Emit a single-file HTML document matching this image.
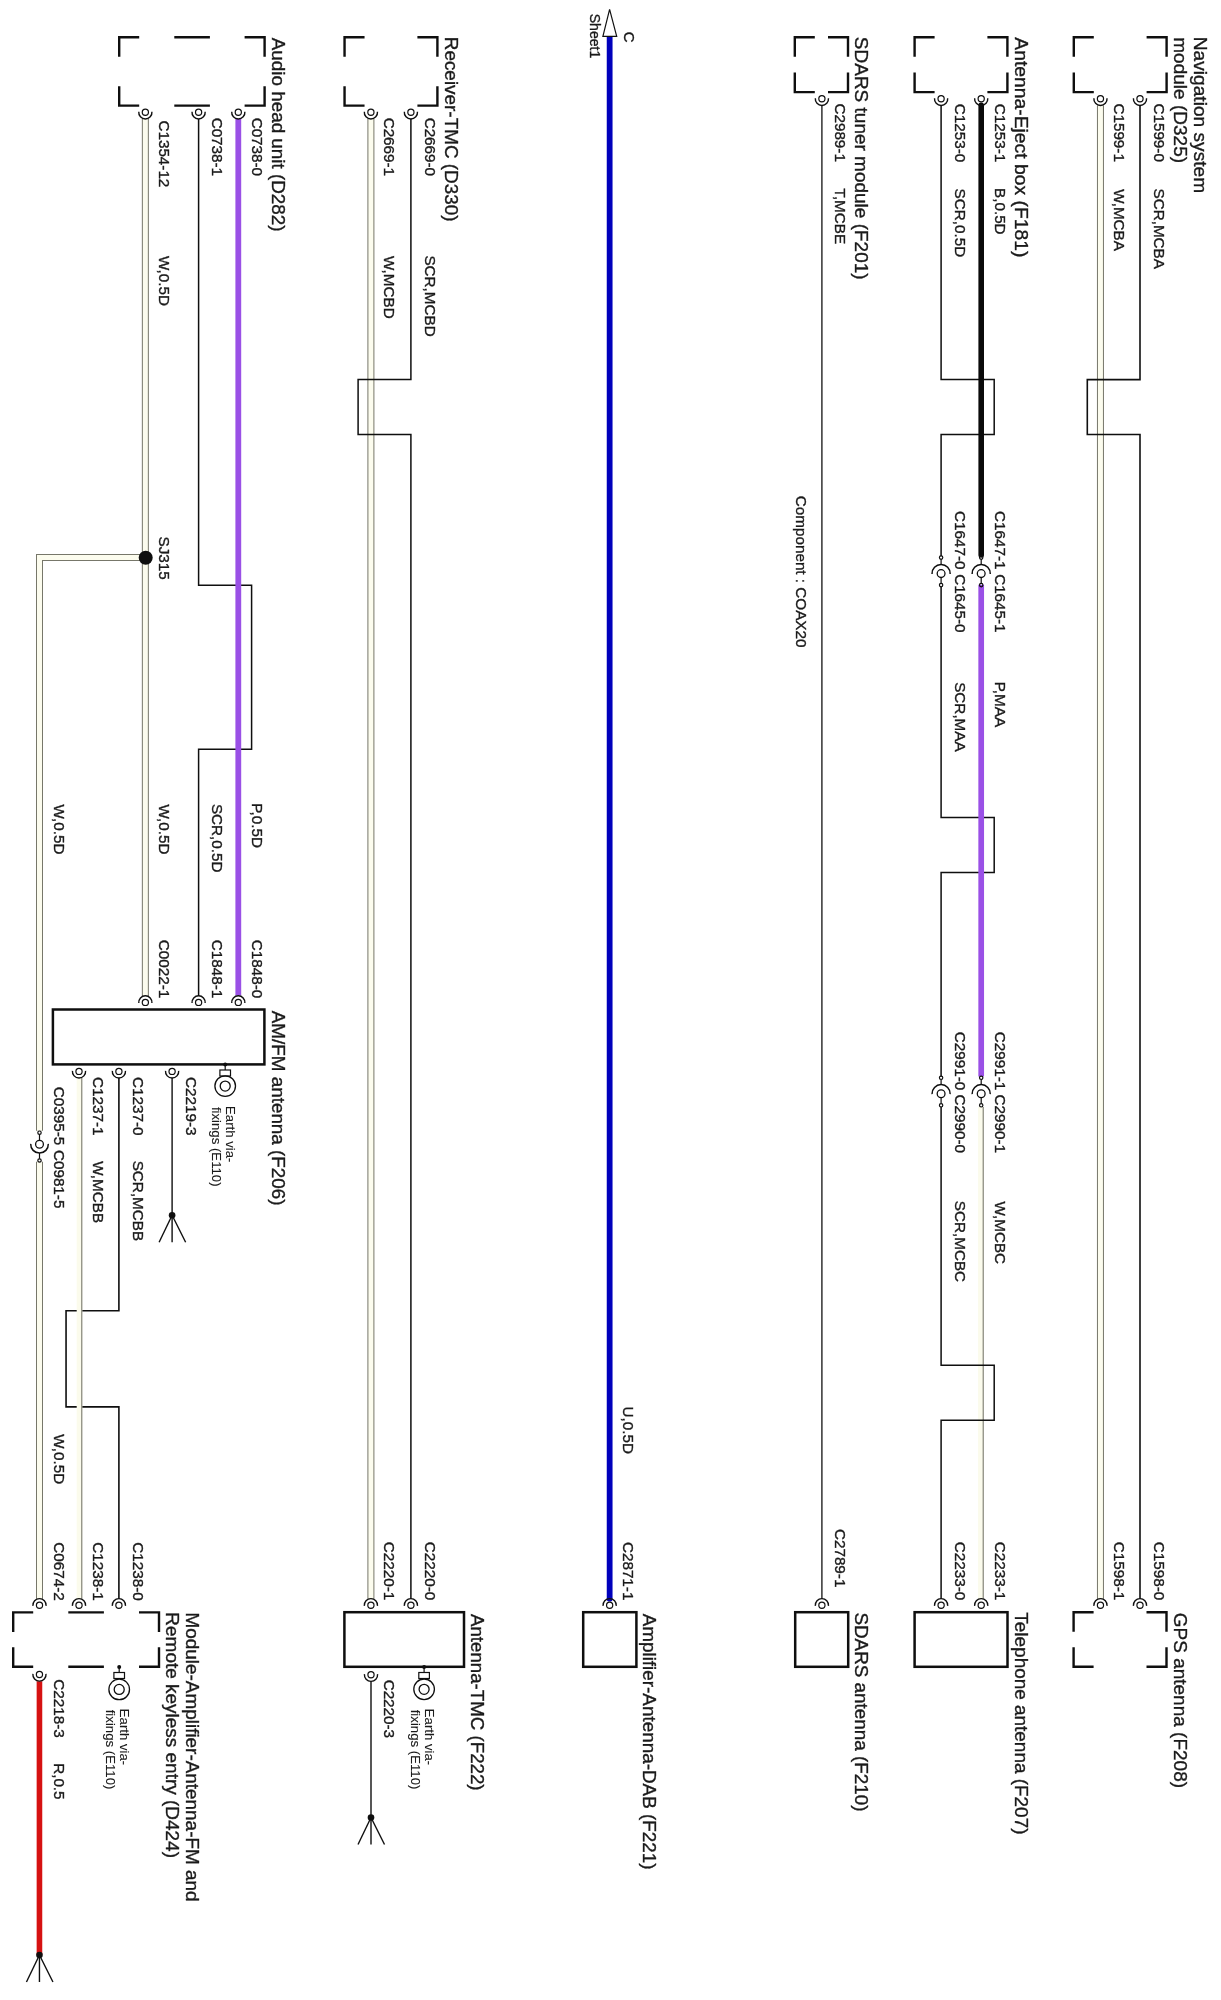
<!DOCTYPE html>
<html><head><meta charset="utf-8"><title>Wiring diagram</title>
<style>
html,body{margin:0;padding:0;background:#fff;}
body{width:1221px;height:2000px;overflow:hidden;}
svg{display:block;font-family:'Liberation Sans', Arial, sans-serif;}
text{-webkit-font-smoothing:antialiased;}
</style></head><body>
<svg width="1221" height="2000" viewBox="0 0 1221 2000" style="will-change:transform">
<rect width="1221" height="2000" fill="#fff"/>
<path d="M1100.45 105.40 L1100.45 1598.70" fill="none" stroke="#77776a" stroke-width="7.0" stroke-linejoin="miter" stroke-linecap="butt"/>
<path d="M1100.45 105.40 L1100.45 1598.70" fill="none" stroke="#fcfcee" stroke-width="5.0" stroke-linejoin="miter" stroke-linecap="butt"/>
<path d="M370.90 118.90 L370.90 1598.70" fill="none" stroke="#77776a" stroke-width="7.0" stroke-linejoin="miter" stroke-linecap="butt"/>
<path d="M370.90 118.90 L370.90 1598.70" fill="none" stroke="#fcfcee" stroke-width="5.0" stroke-linejoin="miter" stroke-linecap="butt"/>
<path d="M145.35 118.90 L145.35 996.00" fill="none" stroke="#77776a" stroke-width="7.0" stroke-linejoin="miter" stroke-linecap="butt"/>
<path d="M145.35 118.90 L145.35 996.00" fill="none" stroke="#fcfcee" stroke-width="5.0" stroke-linejoin="miter" stroke-linecap="butt"/>
<path d="M145.35 557.60 L39.50 557.60 L39.50 1130.80" fill="none" stroke="#77776a" stroke-width="7.0" stroke-linejoin="miter" stroke-linecap="butt"/>
<path d="M145.35 557.60 L39.50 557.60 L39.50 1130.80" fill="none" stroke="#fcfcee" stroke-width="5.0" stroke-linejoin="miter" stroke-linecap="butt"/>
<path d="M39.50 1161.70 L39.50 1598.70" fill="none" stroke="#77776a" stroke-width="7.0" stroke-linejoin="miter" stroke-linecap="butt"/>
<path d="M39.50 1161.70 L39.50 1598.70" fill="none" stroke="#fcfcee" stroke-width="5.0" stroke-linejoin="miter" stroke-linecap="butt"/>
<rect x="978.10" y="1107.00" width="5.6" height="491.70" fill="#fbfbec"/>
<line x1="983.20" y1="1107.00" x2="983.20" y2="1598.70" stroke="#6d6d62" stroke-width="1.0" />
<path d="M1140.00 105.40 L1140.00 379.60 L1087.30 379.60 L1087.30 434.50 L1140.00 434.50 L1140.00 1598.70" fill="none" stroke="#0f0f0f" stroke-width="1.6" stroke-linejoin="miter" />
<path d="M941.10 105.40 L941.10 379.60 L994.20 379.60 L994.20 434.50 L941.10 434.50 L941.10 556.00" fill="none" stroke="#0f0f0f" stroke-width="1.5" stroke-linejoin="miter" />
<path d="M941.10 587.00 L941.10 817.60 L994.20 817.60 L994.20 872.60 L941.10 872.60 L941.10 1076.50" fill="none" stroke="#0f0f0f" stroke-width="1.5" stroke-linejoin="miter" />
<path d="M941.10 1107.00 L941.10 1365.30 L994.20 1365.30 L994.20 1420.30 L941.10 1420.30 L941.10 1598.70" fill="none" stroke="#0f0f0f" stroke-width="1.5" stroke-linejoin="miter" />
<line x1="821.90" y1="105.40" x2="821.90" y2="1598.70" stroke="#222" stroke-width="1.4" />
<path d="M410.90 118.90 L410.90 379.60 L358.10 379.60 L358.10 434.50 L410.90 434.50 L410.90 1598.70" fill="none" stroke="#0f0f0f" stroke-width="1.5" stroke-linejoin="miter" />
<path d="M198.60 118.90 L198.60 585.20 L251.60 585.20 L251.60 749.20 L198.60 749.20 L198.60 996.00" fill="none" stroke="#0f0f0f" stroke-width="1.5" stroke-linejoin="miter" />
<path d="M118.90 1078.00 L118.90 1310.80 L66.05 1310.80 L66.05 1406.90 L118.90 1406.90 L118.90 1598.70" fill="none" stroke="#0f0f0f" stroke-width="1.6" stroke-linejoin="miter" />
<line x1="172.10" y1="1078.00" x2="172.10" y2="1215.00" stroke="#0f0f0f" stroke-width="1.4" />
<line x1="371.00" y1="1681.30" x2="371.00" y2="1817.50" stroke="#0f0f0f" stroke-width="1.4" />
<rect x="76.70" y="1078.00" width="5.6" height="520.70" fill="#fbfbec"/>
<line x1="81.80" y1="1078.00" x2="81.80" y2="1598.70" stroke="#6d6d62" stroke-width="1.0" />
<line x1="981.20" y1="105.40" x2="981.20" y2="555.00" stroke="#0a0a0a" stroke-width="5.6" stroke-linecap="round"/>
<line x1="981.20" y1="584.80" x2="981.20" y2="1076.50" stroke="#9a50e6" stroke-width="5.7" />
<line x1="238.30" y1="118.90" x2="238.30" y2="995.60" stroke="#9a50e6" stroke-width="5.8" />
<line x1="609.65" y1="37.00" x2="609.65" y2="1598.70" stroke="#0000bc" stroke-width="5.8" stroke-linecap="round"/>
<line x1="39.45" y1="1681.30" x2="39.45" y2="1955.00" stroke="#d61212" stroke-width="5.6" />
<path d="M1093.80 37.30 L1073.80 37.30 L1073.80 56.80" fill="none" stroke="#0f0f0f" stroke-width="2.4" stroke-linejoin="miter" />
<path d="M1146.60 37.30 L1166.60 37.30 L1166.60 56.80" fill="none" stroke="#0f0f0f" stroke-width="2.4" stroke-linejoin="miter" />
<path d="M1073.80 72.60 L1073.80 92.10 L1093.80 92.10" fill="none" stroke="#0f0f0f" stroke-width="2.4" stroke-linejoin="miter" />
<path d="M1166.60 72.60 L1166.60 92.10 L1146.60 92.10" fill="none" stroke="#0f0f0f" stroke-width="2.4" stroke-linejoin="miter" />
<path d="M934.60 37.30 L914.60 37.30 L914.60 56.80" fill="none" stroke="#0f0f0f" stroke-width="2.4" stroke-linejoin="miter" />
<path d="M987.40 37.30 L1007.40 37.30 L1007.40 56.80" fill="none" stroke="#0f0f0f" stroke-width="2.4" stroke-linejoin="miter" />
<path d="M914.60 72.60 L914.60 92.10 L934.60 92.10" fill="none" stroke="#0f0f0f" stroke-width="2.4" stroke-linejoin="miter" />
<path d="M1007.40 72.60 L1007.40 92.10 L987.40 92.10" fill="none" stroke="#0f0f0f" stroke-width="2.4" stroke-linejoin="miter" />
<path d="M814.80 37.30 L794.80 37.30 L794.80 56.80" fill="none" stroke="#0f0f0f" stroke-width="2.4" stroke-linejoin="miter" />
<path d="M828.00 37.30 L848.00 37.30 L848.00 56.80" fill="none" stroke="#0f0f0f" stroke-width="2.4" stroke-linejoin="miter" />
<path d="M794.80 72.60 L794.80 92.10 L814.80 92.10" fill="none" stroke="#0f0f0f" stroke-width="2.4" stroke-linejoin="miter" />
<path d="M848.00 72.60 L848.00 92.10 L828.00 92.10" fill="none" stroke="#0f0f0f" stroke-width="2.4" stroke-linejoin="miter" />
<path d="M364.55 37.30 L344.55 37.30 L344.55 56.80" fill="none" stroke="#0f0f0f" stroke-width="2.4" stroke-linejoin="miter" />
<path d="M417.40 37.30 L437.40 37.30 L437.40 56.80" fill="none" stroke="#0f0f0f" stroke-width="2.4" stroke-linejoin="miter" />
<path d="M344.55 86.15 L344.55 105.65 L364.55 105.65" fill="none" stroke="#0f0f0f" stroke-width="2.4" stroke-linejoin="miter" />
<path d="M437.40 86.15 L437.40 105.65 L417.40 105.65" fill="none" stroke="#0f0f0f" stroke-width="2.4" stroke-linejoin="miter" />
<path d="M139.20 37.30 L119.20 37.30 L119.20 56.80" fill="none" stroke="#0f0f0f" stroke-width="2.4" stroke-linejoin="miter" />
<path d="M244.60 37.30 L264.60 37.30 L264.60 56.80" fill="none" stroke="#0f0f0f" stroke-width="2.4" stroke-linejoin="miter" />
<path d="M119.20 86.15 L119.20 105.65 L139.20 105.65" fill="none" stroke="#0f0f0f" stroke-width="2.4" stroke-linejoin="miter" />
<path d="M264.60 86.15 L264.60 105.65 L244.60 105.65" fill="none" stroke="#0f0f0f" stroke-width="2.4" stroke-linejoin="miter" />
<line x1="174.30" y1="37.30" x2="209.90" y2="37.30" stroke="#0f0f0f" stroke-width="2.4" />
<line x1="174.30" y1="105.65" x2="209.90" y2="105.65" stroke="#0f0f0f" stroke-width="2.4" />
<circle cx="1100.45" cy="98.80" r="3.10" fill="none" stroke="#0f0f0f" stroke-width="1.2"/>
<path d="M1107.02 98.22 A6.6 6.6 0 1 1 1093.88 98.22" fill="none" stroke="#0f0f0f" stroke-width="1.4"/>
<circle cx="1140.00" cy="98.80" r="3.10" fill="none" stroke="#0f0f0f" stroke-width="1.2"/>
<path d="M1146.57 98.22 A6.6 6.6 0 1 1 1133.43 98.22" fill="none" stroke="#0f0f0f" stroke-width="1.4"/>
<circle cx="941.10" cy="98.80" r="3.10" fill="none" stroke="#0f0f0f" stroke-width="1.2"/>
<path d="M947.67 98.22 A6.6 6.6 0 1 1 934.53 98.22" fill="none" stroke="#0f0f0f" stroke-width="1.4"/>
<circle cx="981.20" cy="98.80" r="3.10" fill="none" stroke="#0f0f0f" stroke-width="1.2"/>
<path d="M987.77 98.22 A6.6 6.6 0 1 1 974.63 98.22" fill="none" stroke="#0f0f0f" stroke-width="1.4"/>
<circle cx="821.90" cy="98.80" r="3.10" fill="none" stroke="#0f0f0f" stroke-width="1.2"/>
<path d="M828.47 98.22 A6.6 6.6 0 1 1 815.33 98.22" fill="none" stroke="#0f0f0f" stroke-width="1.4"/>
<circle cx="370.90" cy="112.30" r="3.10" fill="none" stroke="#0f0f0f" stroke-width="1.2"/>
<path d="M377.47 111.72 A6.6 6.6 0 1 1 364.33 111.72" fill="none" stroke="#0f0f0f" stroke-width="1.4"/>
<circle cx="410.90" cy="112.30" r="3.10" fill="none" stroke="#0f0f0f" stroke-width="1.2"/>
<path d="M417.47 111.72 A6.6 6.6 0 1 1 404.33 111.72" fill="none" stroke="#0f0f0f" stroke-width="1.4"/>
<circle cx="145.35" cy="112.30" r="3.10" fill="none" stroke="#0f0f0f" stroke-width="1.2"/>
<path d="M151.92 111.72 A6.6 6.6 0 1 1 138.78 111.72" fill="none" stroke="#0f0f0f" stroke-width="1.4"/>
<circle cx="198.60" cy="112.30" r="3.10" fill="none" stroke="#0f0f0f" stroke-width="1.2"/>
<path d="M205.17 111.72 A6.6 6.6 0 1 1 192.03 111.72" fill="none" stroke="#0f0f0f" stroke-width="1.4"/>
<circle cx="238.30" cy="112.30" r="3.10" fill="none" stroke="#0f0f0f" stroke-width="1.2"/>
<path d="M244.87 111.72 A6.6 6.6 0 1 1 231.73 111.72" fill="none" stroke="#0f0f0f" stroke-width="1.4"/>
<circle cx="981.20" cy="573.60" r="3.90" fill="none" stroke="#0f0f0f" stroke-width="1.3"/>
<path d="M972.11 573.92 A9.1 9.1 0 1 1 990.29 573.92" fill="none" stroke="#0f0f0f" stroke-width="1.5"/>
<line x1="981.20" y1="559.30" x2="981.20" y2="564.50" stroke="#0f0f0f" stroke-width="1.2" />
<line x1="981.20" y1="577.50" x2="981.20" y2="583.40" stroke="#0f0f0f" stroke-width="1.2" />
<circle cx="981.20" cy="557.60" r="1.70" fill="none" stroke="#0f0f0f" stroke-width="1.2"/>
<circle cx="981.20" cy="585.10" r="1.70" fill="none" stroke="#0f0f0f" stroke-width="1.2"/>
<circle cx="941.10" cy="573.60" r="3.90" fill="none" stroke="#0f0f0f" stroke-width="1.3"/>
<path d="M932.01 573.92 A9.1 9.1 0 1 1 950.19 573.92" fill="none" stroke="#0f0f0f" stroke-width="1.5"/>
<line x1="941.10" y1="559.30" x2="941.10" y2="564.50" stroke="#0f0f0f" stroke-width="1.2" />
<line x1="941.10" y1="577.50" x2="941.10" y2="583.40" stroke="#0f0f0f" stroke-width="1.2" />
<circle cx="941.10" cy="557.60" r="1.70" fill="none" stroke="#0f0f0f" stroke-width="1.2"/>
<circle cx="941.10" cy="585.10" r="1.70" fill="none" stroke="#0f0f0f" stroke-width="1.2"/>
<circle cx="981.20" cy="1093.80" r="3.90" fill="none" stroke="#0f0f0f" stroke-width="1.3"/>
<path d="M972.11 1094.12 A9.1 9.1 0 1 1 990.29 1094.12" fill="none" stroke="#0f0f0f" stroke-width="1.5"/>
<line x1="981.20" y1="1079.50" x2="981.20" y2="1084.70" stroke="#0f0f0f" stroke-width="1.2" />
<line x1="981.20" y1="1097.70" x2="981.20" y2="1103.60" stroke="#0f0f0f" stroke-width="1.2" />
<circle cx="981.20" cy="1077.80" r="1.70" fill="none" stroke="#0f0f0f" stroke-width="1.2"/>
<circle cx="981.20" cy="1105.30" r="1.70" fill="none" stroke="#0f0f0f" stroke-width="1.2"/>
<circle cx="941.10" cy="1093.80" r="3.90" fill="none" stroke="#0f0f0f" stroke-width="1.3"/>
<path d="M932.01 1094.12 A9.1 9.1 0 1 1 950.19 1094.12" fill="none" stroke="#0f0f0f" stroke-width="1.5"/>
<line x1="941.10" y1="1079.50" x2="941.10" y2="1084.70" stroke="#0f0f0f" stroke-width="1.2" />
<line x1="941.10" y1="1097.70" x2="941.10" y2="1103.60" stroke="#0f0f0f" stroke-width="1.2" />
<circle cx="941.10" cy="1077.80" r="1.70" fill="none" stroke="#0f0f0f" stroke-width="1.2"/>
<circle cx="941.10" cy="1105.30" r="1.70" fill="none" stroke="#0f0f0f" stroke-width="1.2"/>
<circle cx="39.50" cy="1144.20" r="3.90" fill="none" stroke="#0f0f0f" stroke-width="1.3"/>
<path d="M48.29 1143.89 A8.8 8.8 0 1 1 30.71 1143.89" fill="none" stroke="#0f0f0f" stroke-width="1.5"/>
<line x1="39.50" y1="1134.40" x2="39.50" y2="1140.30" stroke="#0f0f0f" stroke-width="1.2" />
<line x1="39.50" y1="1153.00" x2="39.50" y2="1158.80" stroke="#0f0f0f" stroke-width="1.2" />
<circle cx="39.50" cy="1132.70" r="1.70" fill="none" stroke="#0f0f0f" stroke-width="1.2"/>
<circle cx="39.50" cy="1160.50" r="1.70" fill="none" stroke="#0f0f0f" stroke-width="1.2"/>
<path d="M609.6 9.3 L616.7 36.4 L602.9 36.4 Z" fill="#fff" stroke="#111" stroke-width="1.2" stroke-linejoin="miter"/>
<circle cx="145.70" cy="557.70" r="7.00" fill="#0f0f0f"/>
<rect x="52.90" y="1009.50" width="211.50" height="54.90" fill="none" stroke="#0f0f0f" stroke-width="2.5"/>
<circle cx="145.35" cy="1002.40" r="3.10" fill="none" stroke="#0f0f0f" stroke-width="1.2"/>
<path d="M138.78 1002.98 A6.6 6.6 0 1 1 151.92 1002.98" fill="none" stroke="#0f0f0f" stroke-width="1.4"/>
<circle cx="198.60" cy="1002.40" r="3.10" fill="none" stroke="#0f0f0f" stroke-width="1.2"/>
<path d="M192.03 1002.98 A6.6 6.6 0 1 1 205.17 1002.98" fill="none" stroke="#0f0f0f" stroke-width="1.4"/>
<circle cx="238.30" cy="1002.40" r="3.10" fill="none" stroke="#0f0f0f" stroke-width="1.2"/>
<path d="M231.73 1002.98 A6.6 6.6 0 1 1 244.87 1002.98" fill="none" stroke="#0f0f0f" stroke-width="1.4"/>
<circle cx="79.00" cy="1071.40" r="3.10" fill="none" stroke="#0f0f0f" stroke-width="1.2"/>
<path d="M85.57 1070.82 A6.6 6.6 0 1 1 72.43 1070.82" fill="none" stroke="#0f0f0f" stroke-width="1.4"/>
<circle cx="118.90" cy="1071.40" r="3.10" fill="none" stroke="#0f0f0f" stroke-width="1.2"/>
<path d="M125.47 1070.82 A6.6 6.6 0 1 1 112.33 1070.82" fill="none" stroke="#0f0f0f" stroke-width="1.4"/>
<circle cx="172.10" cy="1071.40" r="3.10" fill="none" stroke="#0f0f0f" stroke-width="1.2"/>
<path d="M178.67 1070.82 A6.6 6.6 0 1 1 165.53 1070.82" fill="none" stroke="#0f0f0f" stroke-width="1.4"/>
<circle cx="225.20" cy="1064.40" r="2.00" fill="#0f0f0f"/>
<line x1="225.20" y1="1064.40" x2="225.20" y2="1070.00" stroke="#0f0f0f" stroke-width="1.2" />
<rect x="219.90" y="1070.00" width="10.6" height="6" fill="none" stroke="#0f0f0f" stroke-width="1.2"/>
<circle cx="225.20" cy="1086.10" r="10.30" fill="none" stroke="#0f0f0f" stroke-width="1.3"/>
<circle cx="225.20" cy="1086.10" r="5.00" fill="none" stroke="#0f0f0f" stroke-width="1.3"/>
<circle cx="172.10" cy="1215.20" r="3.30" fill="#0f0f0f"/>
<line x1="172.10" y1="1215.20" x2="159.10" y2="1242.20" stroke="#0f0f0f" stroke-width="1.4" />
<line x1="172.10" y1="1215.20" x2="172.10" y2="1242.20" stroke="#0f0f0f" stroke-width="1.4" />
<line x1="172.10" y1="1215.20" x2="185.60" y2="1242.20" stroke="#0f0f0f" stroke-width="1.4" />
<path d="M1093.60 1612.30 L1073.60 1612.30 L1073.60 1631.80" fill="none" stroke="#0f0f0f" stroke-width="2.4" stroke-linejoin="miter" />
<path d="M1146.50 1612.30 L1166.50 1612.30 L1166.50 1631.80" fill="none" stroke="#0f0f0f" stroke-width="2.4" stroke-linejoin="miter" />
<path d="M1073.60 1647.30 L1073.60 1666.80 L1093.60 1666.80" fill="none" stroke="#0f0f0f" stroke-width="2.4" stroke-linejoin="miter" />
<path d="M1166.50 1647.30 L1166.50 1666.80 L1146.50 1666.80" fill="none" stroke="#0f0f0f" stroke-width="2.4" stroke-linejoin="miter" />
<rect x="914.60" y="1612.20" width="92.90" height="54.60" fill="none" stroke="#0f0f0f" stroke-width="2.5"/>
<rect x="795.20" y="1612.20" width="53.00" height="54.60" fill="none" stroke="#0f0f0f" stroke-width="2.5"/>
<rect x="583.20" y="1612.20" width="53.20" height="54.60" fill="none" stroke="#0f0f0f" stroke-width="2.5"/>
<rect x="344.40" y="1612.20" width="119.60" height="54.60" fill="none" stroke="#0f0f0f" stroke-width="2.5"/>
<path d="M33.20 1612.40 L13.20 1612.40 L13.20 1631.90" fill="none" stroke="#0f0f0f" stroke-width="2.4" stroke-linejoin="miter" />
<path d="M139.00 1612.40 L159.00 1612.40 L159.00 1631.90" fill="none" stroke="#0f0f0f" stroke-width="2.4" stroke-linejoin="miter" />
<path d="M13.20 1647.30 L13.20 1666.80 L33.20 1666.80" fill="none" stroke="#0f0f0f" stroke-width="2.4" stroke-linejoin="miter" />
<path d="M159.00 1647.30 L159.00 1666.80 L139.00 1666.80" fill="none" stroke="#0f0f0f" stroke-width="2.4" stroke-linejoin="miter" />
<line x1="68.30" y1="1612.40" x2="103.90" y2="1612.40" stroke="#0f0f0f" stroke-width="2.4" />
<line x1="68.30" y1="1666.80" x2="103.90" y2="1666.80" stroke="#0f0f0f" stroke-width="2.4" />
<circle cx="1100.45" cy="1605.30" r="3.10" fill="none" stroke="#0f0f0f" stroke-width="1.2"/>
<path d="M1093.88 1605.88 A6.6 6.6 0 1 1 1107.02 1605.88" fill="none" stroke="#0f0f0f" stroke-width="1.4"/>
<circle cx="1140.00" cy="1605.30" r="3.10" fill="none" stroke="#0f0f0f" stroke-width="1.2"/>
<path d="M1133.43 1605.88 A6.6 6.6 0 1 1 1146.57 1605.88" fill="none" stroke="#0f0f0f" stroke-width="1.4"/>
<circle cx="941.10" cy="1605.30" r="3.10" fill="none" stroke="#0f0f0f" stroke-width="1.2"/>
<path d="M934.53 1605.88 A6.6 6.6 0 1 1 947.67 1605.88" fill="none" stroke="#0f0f0f" stroke-width="1.4"/>
<circle cx="981.20" cy="1605.30" r="3.10" fill="none" stroke="#0f0f0f" stroke-width="1.2"/>
<path d="M974.63 1605.88 A6.6 6.6 0 1 1 987.77 1605.88" fill="none" stroke="#0f0f0f" stroke-width="1.4"/>
<circle cx="821.90" cy="1605.30" r="3.10" fill="none" stroke="#0f0f0f" stroke-width="1.2"/>
<path d="M815.33 1605.88 A6.6 6.6 0 1 1 828.47 1605.88" fill="none" stroke="#0f0f0f" stroke-width="1.4"/>
<circle cx="609.65" cy="1605.30" r="3.10" fill="none" stroke="#0f0f0f" stroke-width="1.2"/>
<path d="M603.08 1605.88 A6.6 6.6 0 1 1 616.22 1605.88" fill="none" stroke="#0f0f0f" stroke-width="1.4"/>
<circle cx="370.90" cy="1605.30" r="3.10" fill="none" stroke="#0f0f0f" stroke-width="1.2"/>
<path d="M364.33 1605.88 A6.6 6.6 0 1 1 377.47 1605.88" fill="none" stroke="#0f0f0f" stroke-width="1.4"/>
<circle cx="410.90" cy="1605.30" r="3.10" fill="none" stroke="#0f0f0f" stroke-width="1.2"/>
<path d="M404.33 1605.88 A6.6 6.6 0 1 1 417.47 1605.88" fill="none" stroke="#0f0f0f" stroke-width="1.4"/>
<circle cx="39.50" cy="1605.30" r="3.10" fill="none" stroke="#0f0f0f" stroke-width="1.2"/>
<path d="M32.93 1605.88 A6.6 6.6 0 1 1 46.07 1605.88" fill="none" stroke="#0f0f0f" stroke-width="1.4"/>
<circle cx="79.00" cy="1605.30" r="3.10" fill="none" stroke="#0f0f0f" stroke-width="1.2"/>
<path d="M72.43 1605.88 A6.6 6.6 0 1 1 85.57 1605.88" fill="none" stroke="#0f0f0f" stroke-width="1.4"/>
<circle cx="118.90" cy="1605.30" r="3.10" fill="none" stroke="#0f0f0f" stroke-width="1.2"/>
<path d="M112.33 1605.88 A6.6 6.6 0 1 1 125.47 1605.88" fill="none" stroke="#0f0f0f" stroke-width="1.4"/>
<circle cx="371.00" cy="1674.70" r="3.10" fill="none" stroke="#0f0f0f" stroke-width="1.2"/>
<path d="M377.57 1674.12 A6.6 6.6 0 1 1 364.43 1674.12" fill="none" stroke="#0f0f0f" stroke-width="1.4"/>
<circle cx="39.45" cy="1674.50" r="3.10" fill="none" stroke="#0f0f0f" stroke-width="1.2"/>
<path d="M46.02 1673.92 A6.6 6.6 0 1 1 32.88 1673.92" fill="none" stroke="#0f0f0f" stroke-width="1.4"/>
<circle cx="424.10" cy="1666.90" r="2.00" fill="#0f0f0f"/>
<line x1="424.10" y1="1666.90" x2="424.10" y2="1672.50" stroke="#0f0f0f" stroke-width="1.2" />
<rect x="418.80" y="1672.50" width="10.6" height="6" fill="none" stroke="#0f0f0f" stroke-width="1.2"/>
<circle cx="424.10" cy="1689.30" r="10.30" fill="none" stroke="#0f0f0f" stroke-width="1.3"/>
<circle cx="424.10" cy="1689.30" r="5.00" fill="none" stroke="#0f0f0f" stroke-width="1.3"/>
<circle cx="119.20" cy="1666.90" r="2.00" fill="#0f0f0f"/>
<line x1="119.20" y1="1666.90" x2="119.20" y2="1672.50" stroke="#0f0f0f" stroke-width="1.2" />
<rect x="113.90" y="1672.50" width="10.6" height="6" fill="none" stroke="#0f0f0f" stroke-width="1.2"/>
<circle cx="119.20" cy="1689.40" r="10.30" fill="none" stroke="#0f0f0f" stroke-width="1.3"/>
<circle cx="119.20" cy="1689.40" r="5.00" fill="none" stroke="#0f0f0f" stroke-width="1.3"/>
<circle cx="371.00" cy="1817.50" r="3.30" fill="#0f0f0f"/>
<line x1="371.00" y1="1817.50" x2="358.00" y2="1844.50" stroke="#0f0f0f" stroke-width="1.4" />
<line x1="371.00" y1="1817.50" x2="371.00" y2="1844.50" stroke="#0f0f0f" stroke-width="1.4" />
<line x1="371.00" y1="1817.50" x2="384.50" y2="1844.50" stroke="#0f0f0f" stroke-width="1.4" />
<circle cx="39.45" cy="1955.00" r="3.30" fill="#0f0f0f"/>
<line x1="39.45" y1="1955.00" x2="26.45" y2="1982.00" stroke="#0f0f0f" stroke-width="1.4" />
<line x1="39.45" y1="1955.00" x2="39.45" y2="1982.00" stroke="#0f0f0f" stroke-width="1.4" />
<line x1="39.45" y1="1955.00" x2="52.95" y2="1982.00" stroke="#0f0f0f" stroke-width="1.4" />
<text transform="translate(1193.80 36.73) rotate(90) scale(1.0644375460736772 1)" font-size="18" fill="#1a1a1a" stroke="#1a1a1a" stroke-width="0.35">Navigation system</text>
<text transform="translate(1173.90 37.24) rotate(90) scale(1.057860088500757 1)" font-size="18" fill="#1a1a1a" stroke="#1a1a1a" stroke-width="0.35">module (D325)</text>
<text transform="translate(1014.50 37.31) rotate(90) scale(1.0739904430846425 1)" font-size="18" fill="#1a1a1a" stroke="#1a1a1a" stroke-width="0.35">Antenna-Eject box (F181)</text>
<text transform="translate(855.30 36.84) rotate(90) scale(1.0553809279233008 1)" font-size="18" fill="#1a1a1a" stroke="#1a1a1a" stroke-width="0.35">SDARS tuner module (F201)</text>
<text transform="translate(444.60 36.75) rotate(90) scale(1.0505402681351599 1)" font-size="18" fill="#1a1a1a" stroke="#1a1a1a" stroke-width="0.35">Receiver-TMC (D330)</text>
<text transform="translate(271.65 37.76) rotate(90) scale(1.047438265706945 1)" font-size="18" fill="#1a1a1a" stroke="#1a1a1a" stroke-width="0.35">Audio head unit (D282)</text>
<text transform="translate(1173.80 1612.74) rotate(90) scale(1.0562293169535504 1)" font-size="18" fill="#1a1a1a" stroke="#1a1a1a" stroke-width="0.35">GPS antenna (F208)</text>
<text transform="translate(1014.80 1612.37) rotate(90) scale(1.0522991449441883 1)" font-size="18" fill="#1a1a1a" stroke="#1a1a1a" stroke-width="0.35">Telephone antenna (F207)</text>
<text transform="translate(855.30 1612.44) rotate(90) scale(1.0480161510475865 1)" font-size="18" fill="#1a1a1a" stroke="#1a1a1a" stroke-width="0.35">SDARS antenna (F210)</text>
<text transform="translate(643.35 1613.66) rotate(90) scale(1.0488252153604343 1)" font-size="18" fill="#1a1a1a" stroke="#1a1a1a" stroke-width="0.35">Amplifier-Antenna-DAB (F221)</text>
<text transform="translate(470.65 1613.96) rotate(90) scale(1.0390259132063688 1)" font-size="18" fill="#1a1a1a" stroke="#1a1a1a" stroke-width="0.35">Antenna-TMC (F222)</text>
<text transform="translate(186.00 1612.55) rotate(90) scale(1.0510920442408735 1)" font-size="18" fill="#1a1a1a" stroke="#1a1a1a" stroke-width="0.35">Module-Amplifier-Antenna-FM and</text>
<text transform="translate(166.10 1612.34) rotate(90) scale(1.0546950534900967 1)" font-size="18" fill="#1a1a1a" stroke="#1a1a1a" stroke-width="0.35">Remote keyless entry (D424)</text>
<text transform="translate(271.50 1010.76) rotate(90) scale(1.0474693705111955 1)" font-size="18" fill="#1a1a1a" stroke="#1a1a1a" stroke-width="0.35">AM/FM antenna (F206)</text>
<text transform="translate(1153.70 103.43) rotate(90) scale(0.99 1)" font-size="15.4" fill="#1a1a1a" stroke="#1a1a1a" stroke-width="0.35">C1599-0</text>
<text transform="translate(1153.70 188.51) rotate(90) scale(0.99 1)" font-size="15.4" fill="#1a1a1a" stroke="#1a1a1a" stroke-width="0.35">SCR,MCBA</text>
<text transform="translate(1153.70 1541.83) rotate(90) scale(0.99 1)" font-size="15.4" fill="#1a1a1a" stroke="#1a1a1a" stroke-width="0.35">C1598-0</text>
<text transform="translate(1113.50 103.43) rotate(90) scale(0.99 1)" font-size="15.4" fill="#1a1a1a" stroke="#1a1a1a" stroke-width="0.35">C1599-1</text>
<text transform="translate(1113.50 189.13) rotate(90) scale(0.99 1)" font-size="15.4" fill="#1a1a1a" stroke="#1a1a1a" stroke-width="0.35">W,MCBA</text>
<text transform="translate(1113.50 1541.83) rotate(90) scale(0.99 1)" font-size="15.4" fill="#1a1a1a" stroke="#1a1a1a" stroke-width="0.35">C1598-1</text>
<text transform="translate(994.70 103.73) rotate(90) scale(0.99 1)" font-size="15.4" fill="#1a1a1a" stroke="#1a1a1a" stroke-width="0.35">C1253-1</text>
<text transform="translate(994.70 188.05) rotate(90) scale(0.99 1)" font-size="15.4" fill="#1a1a1a" stroke="#1a1a1a" stroke-width="0.35">B,0.5D</text>
<text transform="translate(994.70 511.03) rotate(90) scale(0.99 1)" font-size="15.4" fill="#1a1a1a" stroke="#1a1a1a" stroke-width="0.35">C1647-1</text>
<text transform="translate(994.70 574.13) rotate(90) scale(0.99 1)" font-size="15.4" fill="#1a1a1a" stroke="#1a1a1a" stroke-width="0.35">C1645-1</text>
<text transform="translate(994.70 681.65) rotate(90) scale(0.99 1)" font-size="15.4" fill="#1a1a1a" stroke="#1a1a1a" stroke-width="0.35">P,MAA</text>
<text transform="translate(994.70 1031.73) rotate(90) scale(0.99 1)" font-size="15.4" fill="#1a1a1a" stroke="#1a1a1a" stroke-width="0.35">C2991-1</text>
<text transform="translate(994.70 1094.53) rotate(90) scale(0.99 1)" font-size="15.4" fill="#1a1a1a" stroke="#1a1a1a" stroke-width="0.35">C2990-1</text>
<text transform="translate(994.70 1201.43) rotate(90) scale(0.99 1)" font-size="15.4" fill="#1a1a1a" stroke="#1a1a1a" stroke-width="0.35">W,MCBC</text>
<text transform="translate(994.70 1541.83) rotate(90) scale(0.99 1)" font-size="15.4" fill="#1a1a1a" stroke="#1a1a1a" stroke-width="0.35">C2233-1</text>
<text transform="translate(954.60 103.73) rotate(90) scale(0.99 1)" font-size="15.4" fill="#1a1a1a" stroke="#1a1a1a" stroke-width="0.35">C1253-0</text>
<text transform="translate(954.60 188.61) rotate(90) scale(0.99 1)" font-size="15.4" fill="#1a1a1a" stroke="#1a1a1a" stroke-width="0.35">SCR,0.5D</text>
<text transform="translate(954.60 511.03) rotate(90) scale(0.99 1)" font-size="15.4" fill="#1a1a1a" stroke="#1a1a1a" stroke-width="0.35">C1647-0</text>
<text transform="translate(954.60 574.13) rotate(90) scale(0.99 1)" font-size="15.4" fill="#1a1a1a" stroke="#1a1a1a" stroke-width="0.35">C1645-0</text>
<text transform="translate(954.60 682.21) rotate(90) scale(0.99 1)" font-size="15.4" fill="#1a1a1a" stroke="#1a1a1a" stroke-width="0.35">SCR,MAA</text>
<text transform="translate(954.60 1031.73) rotate(90) scale(0.99 1)" font-size="15.4" fill="#1a1a1a" stroke="#1a1a1a" stroke-width="0.35">C2991-0</text>
<text transform="translate(954.60 1094.53) rotate(90) scale(0.99 1)" font-size="15.4" fill="#1a1a1a" stroke="#1a1a1a" stroke-width="0.35">C2990-0</text>
<text transform="translate(954.60 1200.81) rotate(90) scale(0.99 1)" font-size="15.4" fill="#1a1a1a" stroke="#1a1a1a" stroke-width="0.35">SCR,MCBC</text>
<text transform="translate(954.60 1541.83) rotate(90) scale(0.99 1)" font-size="15.4" fill="#1a1a1a" stroke="#1a1a1a" stroke-width="0.35">C2233-0</text>
<text transform="translate(835.20 103.43) rotate(90) scale(0.99 1)" font-size="15.4" fill="#1a1a1a" stroke="#1a1a1a" stroke-width="0.35">C2989-1</text>
<text transform="translate(835.20 188.26) rotate(90) scale(0.99 1)" font-size="15.4" fill="#1a1a1a" stroke="#1a1a1a" stroke-width="0.35">T,MCBE</text>
<text transform="translate(835.20 1528.93) rotate(90) scale(0.99 1)" font-size="15.4" fill="#1a1a1a" stroke="#1a1a1a" stroke-width="0.35">C2789-1</text>
<text transform="translate(795.70 495.83) rotate(90) scale(0.99 1)" font-size="15.4" fill="#1a1a1a" stroke="#1a1a1a" stroke-width="0.35">Component : COAX20</text>
<text transform="translate(622.90 1406.62) rotate(90) scale(0.99 1)" font-size="15.4" fill="#1a1a1a" stroke="#1a1a1a" stroke-width="0.35">U,0.5D</text>
<text transform="translate(623.20 1541.93) rotate(90) scale(0.99 1)" font-size="15.4" fill="#1a1a1a" stroke="#1a1a1a" stroke-width="0.35">C2871-1</text>
<text transform="translate(424.60 117.63) rotate(90) scale(0.99 1)" font-size="15.4" fill="#1a1a1a" stroke="#1a1a1a" stroke-width="0.35">C2669-0</text>
<text transform="translate(424.60 255.41) rotate(90) scale(0.99 1)" font-size="15.4" fill="#1a1a1a" stroke="#1a1a1a" stroke-width="0.35">SCR,MCBD</text>
<text transform="translate(424.60 1541.83) rotate(90) scale(0.99 1)" font-size="15.4" fill="#1a1a1a" stroke="#1a1a1a" stroke-width="0.35">C2220-0</text>
<text transform="translate(384.40 117.63) rotate(90) scale(0.99 1)" font-size="15.4" fill="#1a1a1a" stroke="#1a1a1a" stroke-width="0.35">C2669-1</text>
<text transform="translate(384.40 256.03) rotate(90) scale(0.99 1)" font-size="15.4" fill="#1a1a1a" stroke="#1a1a1a" stroke-width="0.35">W,MCBD</text>
<text transform="translate(384.40 1541.83) rotate(90) scale(0.99 1)" font-size="15.4" fill="#1a1a1a" stroke="#1a1a1a" stroke-width="0.35">C2220-1</text>
<text transform="translate(384.40 1679.63) rotate(90) scale(0.99 1)" font-size="15.4" fill="#1a1a1a" stroke="#1a1a1a" stroke-width="0.35">C2220-3</text>
<text transform="translate(251.60 117.63) rotate(90) scale(0.99 1)" font-size="15.4" fill="#1a1a1a" stroke="#1a1a1a" stroke-width="0.35">C0738-0</text>
<text transform="translate(251.60 803.35) rotate(90) scale(0.99 1)" font-size="15.4" fill="#1a1a1a" stroke="#1a1a1a" stroke-width="0.35">P,0.5D</text>
<text transform="translate(251.60 939.73) rotate(90) scale(0.99 1)" font-size="15.4" fill="#1a1a1a" stroke="#1a1a1a" stroke-width="0.35">C1848-0</text>
<text transform="translate(212.40 117.63) rotate(90) scale(0.99 1)" font-size="15.4" fill="#1a1a1a" stroke="#1a1a1a" stroke-width="0.35">C0738-1</text>
<text transform="translate(212.40 803.91) rotate(90) scale(0.99 1)" font-size="15.4" fill="#1a1a1a" stroke="#1a1a1a" stroke-width="0.35">SCR,0.5D</text>
<text transform="translate(212.40 939.73) rotate(90) scale(0.99 1)" font-size="15.4" fill="#1a1a1a" stroke="#1a1a1a" stroke-width="0.35">C1848-1</text>
<text transform="translate(159.20 120.43) rotate(90) scale(0.99 1)" font-size="15.4" fill="#1a1a1a" stroke="#1a1a1a" stroke-width="0.35">C1354-12</text>
<text transform="translate(159.20 256.03) rotate(90) scale(0.99 1)" font-size="15.4" fill="#1a1a1a" stroke="#1a1a1a" stroke-width="0.35">W,0.5D</text>
<text transform="translate(159.20 536.51) rotate(90) scale(0.99 1)" font-size="15.4" fill="#1a1a1a" stroke="#1a1a1a" stroke-width="0.35">SJ315</text>
<text transform="translate(159.20 804.53) rotate(90) scale(0.99 1)" font-size="15.4" fill="#1a1a1a" stroke="#1a1a1a" stroke-width="0.35">W,0.5D</text>
<text transform="translate(159.20 939.73) rotate(90) scale(0.99 1)" font-size="15.4" fill="#1a1a1a" stroke="#1a1a1a" stroke-width="0.35">C0022-1</text>
<text transform="translate(53.50 804.53) rotate(90) scale(0.99 1)" font-size="15.4" fill="#1a1a1a" stroke="#1a1a1a" stroke-width="0.35">W,0.5D</text>
<text transform="translate(53.50 1086.83) rotate(90) scale(0.99 1)" font-size="15.4" fill="#1a1a1a" stroke="#1a1a1a" stroke-width="0.35">C0395-5</text>
<text transform="translate(53.50 1149.93) rotate(90) scale(0.99 1)" font-size="15.4" fill="#1a1a1a" stroke="#1a1a1a" stroke-width="0.35">C0981-5</text>
<text transform="translate(53.50 1434.33) rotate(90) scale(0.99 1)" font-size="15.4" fill="#1a1a1a" stroke="#1a1a1a" stroke-width="0.35">W,0.5D</text>
<text transform="translate(53.50 1542.33) rotate(90) scale(0.99 1)" font-size="15.4" fill="#1a1a1a" stroke="#1a1a1a" stroke-width="0.35">C0674-2</text>
<text transform="translate(53.50 1679.33) rotate(90) scale(0.99 1)" font-size="15.4" fill="#1a1a1a" stroke="#1a1a1a" stroke-width="0.35">C2218-3</text>
<text transform="translate(53.50 1763.15) rotate(90) scale(0.99 1)" font-size="15.4" fill="#1a1a1a" stroke="#1a1a1a" stroke-width="0.35">R,0.5</text>
<text transform="translate(185.60 1077.03) rotate(90) scale(0.99 1)" font-size="15.4" fill="#1a1a1a" stroke="#1a1a1a" stroke-width="0.35">C2219-3</text>
<text transform="translate(133.00 1077.03) rotate(90) scale(0.99 1)" font-size="15.4" fill="#1a1a1a" stroke="#1a1a1a" stroke-width="0.35">C1237-0</text>
<text transform="translate(133.00 1160.71) rotate(90) scale(0.99 1)" font-size="15.4" fill="#1a1a1a" stroke="#1a1a1a" stroke-width="0.35">SCR,MCBB</text>
<text transform="translate(92.90 1077.03) rotate(90) scale(0.99 1)" font-size="15.4" fill="#1a1a1a" stroke="#1a1a1a" stroke-width="0.35">C1237-1</text>
<text transform="translate(92.90 1161.33) rotate(90) scale(0.99 1)" font-size="15.4" fill="#1a1a1a" stroke="#1a1a1a" stroke-width="0.35">W,MCBB</text>
<text transform="translate(132.70 1542.33) rotate(90) scale(0.99 1)" font-size="15.4" fill="#1a1a1a" stroke="#1a1a1a" stroke-width="0.35">C1238-0</text>
<text transform="translate(92.70 1542.33) rotate(90) scale(0.99 1)" font-size="15.4" fill="#1a1a1a" stroke="#1a1a1a" stroke-width="0.35">C1238-1</text>
<text transform="translate(623.80 31.84) rotate(90) scale(1.0 1)" font-size="15" fill="#1a1a1a" stroke="#1a1a1a" stroke-width="0.35">C</text>
<text transform="translate(590.20 13.76) rotate(90) scale(0.937 1)" font-size="15" fill="#1a1a1a" stroke="#1a1a1a" stroke-width="0.35">Sheet1</text>
<text transform="translate(225.90 1106.02) rotate(90) scale(1.0 1)" font-size="13.2" fill="#1a1a1a" stroke="#1a1a1a" stroke-width="0.1">Earth via-</text>
<text transform="translate(212.15 1106.91) rotate(90) scale(1.0 1)" font-size="13.2" fill="#1a1a1a" stroke="#1a1a1a" stroke-width="0.1">fixings (E110)</text>
<text transform="translate(425.25 1708.82) rotate(90) scale(1.0 1)" font-size="13.2" fill="#1a1a1a" stroke="#1a1a1a" stroke-width="0.1">Earth via-</text>
<text transform="translate(411.20 1709.71) rotate(90) scale(1.0 1)" font-size="13.2" fill="#1a1a1a" stroke="#1a1a1a" stroke-width="0.1">fixings (E110)</text>
<text transform="translate(120.35 1708.82) rotate(90) scale(1.0 1)" font-size="13.2" fill="#1a1a1a" stroke="#1a1a1a" stroke-width="0.1">Earth via-</text>
<text transform="translate(105.60 1709.71) rotate(90) scale(1.0 1)" font-size="13.2" fill="#1a1a1a" stroke="#1a1a1a" stroke-width="0.1">fixings (E110)</text>
</svg>
</body></html>
